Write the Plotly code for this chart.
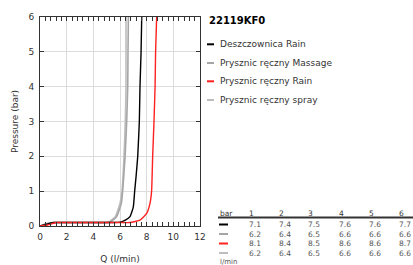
import plotly.graph_objects as go

# ---- data ----
series_names = ["Deszczownica Rain", "Prysznic ręczny Massage", "Prysznic ręczny Rain", "Prysznic ręczny spray"]
series_colors = ["#000000", "#a6a6a6", "#ff2020", "#bdbdbd"]

black_q = [0, 0.5, 1.0, 2, 4, 5.5, 6.0, 6.4, 6.75, 7.0, 7.1, 7.2, 7.33, 7.45, 7.5, 7.58, 7.63]
black_p = [0, 0.05, 0.1, 0.1, 0.1, 0.1, 0.11, 0.17, 0.27, 0.55, 1.0, 1.4, 2, 3, 4, 5, 6]

massage_q = [0, 0.5, 1.0, 2, 4, 5.0, 5.3, 5.75, 6.1, 6.2, 6.38, 6.5, 6.58, 6.6, 6.63]
massage_p = [0, 0.07, 0.1, 0.1, 0.1, 0.1, 0.12, 0.27, 0.65, 1.0, 2, 3, 4, 5, 6]

red_q = [0, 0.5, 1.2, 2, 4, 6, 6.75, 7.5, 8.0, 8.25, 8.37, 8.45, 8.55, 8.63, 8.67, 8.75]
red_p = [0, 0.02, 0.1, 0.1, 0.1, 0.1, 0.1, 0.17, 0.36, 0.65, 1.0, 2, 3, 4, 5, 6]

spray_q = [0, 0.5, 1.0, 2, 4, 5.0, 5.2, 5.65, 6.0, 6.15, 6.3, 6.4, 6.45, 6.45, 6.45]
spray_p = [0, 0.07, 0.1, 0.1, 0.1, 0.1, 0.12, 0.27, 0.65, 1.0, 2, 3, 4, 5, 6]

table_header = ["bar", "1", "2", "3", "4", "5", "6"]
table_rows = [
    ["7.1", "7.4", "7.5", "7.6", "7.6", "7.7"],
    ["6.2", "6.4", "6.5", "6.6", "6.6", "6.6"],
    ["8.1", "8.4", "8.5", "8.6", "8.6", "8.7"],
    ["6.2", "6.4", "6.5", "6.6", "6.6", "6.6"],
]
title_text = "22119KF0"

W, H = 413, 265
L, R, T, B = 40, 200, 17, 226  # pixel positions of the plot area

def px(x):
    return (x - L) / (R - L)

def py(y):
    return (B - y) / (B - T)

fig = go.Figure()
traces = [(spray_q, spray_p, 1.6), (massage_q, massage_p, 1.6), (black_q, black_p, 1.4), (red_q, red_p, 1.4)]
order = [3, 1, 0, 2]
for (q, p, w), idx in zip(traces, order):
    fig.add_trace(go.Scatter(x=q, y=p, mode="lines", name=series_names[idx],
                             line=dict(color=series_colors[idx], width=w, shape="spline", smoothing=0.4),
                             showlegend=False))

font = "DejaVu Sans"
ann = []
shapes = []
ann.append(dict(x=px(207), y=py(21), xref="paper", yref="paper", text="<b>" + title_text + "</b>",
                showarrow=False, xanchor="left", yanchor="middle", font=dict(family=font, size=10, color="#000")))
leg_y = [44.3, 63, 81.3, 100]
for i, nm in enumerate(series_names):
    shapes.append(dict(type="line", xref="paper", yref="paper", x0=px(207), x1=px(214), y0=py(leg_y[i]), y1=py(leg_y[i]),
                       line=dict(color=series_colors[i], width=2)))
    ann.append(dict(x=px(218), y=py(leg_y[i]), xref="paper", yref="paper", text=nm, showarrow=False,
                    xanchor="left", yanchor="middle", font=dict(family=font, size=9, color="#333")))
col_x = [218, 247, 276.5, 306, 337, 367, 397]
hdr_y = 213
for j, h in enumerate(table_header):
    ann.append(dict(x=px(col_x[j]), y=py(hdr_y), xref="paper", yref="paper", text=h, showarrow=False,
                    xanchor="left", yanchor="middle", font=dict(family=font, size=7.5, color="#333")))
shapes.append(dict(type="line", xref="paper", yref="paper", x0=px(218), x1=px(413), y0=py(217.5), y1=py(217.5),
                   line=dict(color="#333", width=2)))
row_y = [224.5, 234, 243.5, 253]
for i, row in enumerate(table_rows):
    shapes.append(dict(type="line", xref="paper", yref="paper", x0=px(219), x1=px(228), y0=py(row_y[i]), y1=py(row_y[i]),
                       line=dict(color=series_colors[i], width=2)))
    for j, v in enumerate(row):
        ann.append(dict(x=px(col_x[j + 1]), y=py(row_y[i]), xref="paper", yref="paper", text=v, showarrow=False,
                        xanchor="left", yanchor="middle", font=dict(family=font, size=7.5, color="#555")))
ann.append(dict(x=px(218), y=py(262), xref="paper", yref="paper", text="l/min", showarrow=False,
                xanchor="left", yanchor="middle", font=dict(family=font, size=7, color="#555")))

fig.update_layout(
    width=W, height=H,
    margin=dict(l=L, r=W - R, t=T, b=H - B, pad=0),
    paper_bgcolor="white", plot_bgcolor="white",
    font=dict(family=font, size=9, color="#333"),
    annotations=ann, shapes=shapes,
    xaxis=dict(range=[0, 12], dtick=2, tick0=0, showgrid=True, gridcolor="#dcdcdc", gridwidth=1,
               showline=True, linecolor="#333", linewidth=1, automargin=False,
               ticks="inside", ticklen=4, tickcolor="#333", ticklabelstandoff=2,
               minor=dict(dtick=0.4, ticks="inside", ticklen=4, tickcolor="#333", showgrid=False),
               title=dict(text="Q (l/min)", font=dict(size=9, color="#333"), standoff=14),
               tickfont=dict(size=9, color="#333"), zeroline=False),
    xaxis2=dict(overlaying="x", matches="x", side="top", range=[0, 12], showticklabels=False, showgrid=False,
                ticks="inside", ticklen=4, tickcolor="#333", dtick=2, tick0=0, automargin=False,
                minor=dict(dtick=0.4, ticks="inside", ticklen=4, tickcolor="#333", showgrid=False),
                showline=True, linecolor="#333", linewidth=1, zeroline=False),
)
fig.add_trace(go.Scatter(x=[0, 12], y=[0, 0], xaxis="x2", mode="lines", line=dict(width=0),
                         hoverinfo="skip", showlegend=False))
fig.update_yaxes(range=[0, 6], dtick=1, tick0=0, showgrid=True, gridcolor="#dcdcdc", gridwidth=1,
                 showline=True, linecolor="#333", linewidth=1, mirror="ticks", automargin=False,
                 ticks="inside", ticklen=4, tickcolor="#333", ticklabelstandoff=3,
                 title=dict(text="Pressure (bar)", font=dict(size=9, color="#333"), standoff=8),
                 tickfont=dict(size=9, color="#333"), zeroline=False)
fig.write_html("out.html", config={"displayModeBar": False},
               post_script="document.body.style.margin='0';document.body.style.overflow='hidden';")
